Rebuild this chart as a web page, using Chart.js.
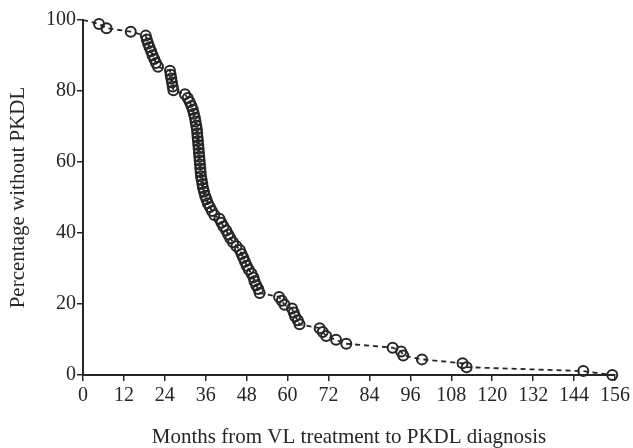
<!DOCTYPE html>
<html>
<head>
<meta charset="utf-8">
<script src="https://cdn.jsdelivr.net/npm/chart.js@4"></script>
<style>
    html, body { margin: 0; padding: 0; background: #fff; }
    #wrap { width: 633px; height: 448px; }
</style>
</head>
<body>
<div id="wrap"><canvas id="km-chart" width="633" height="448"></canvas></div>
<script>
// Months from VL treatment to PKDL diagnosis
const months = [0, 4.7, 6.9, 14.0,
    18.4, 18.7, 19.1, 19.5, 20.0, 20.4, 20.9, 21.4, 22.0,
    25.5, 25.7, 25.9, 26.1, 26.3, 26.5,
    29.9, 30.7, 31.3, 31.8, 32.2, 32.5, 32.8, 33.0, 33.2, 33.4,
    33.5, 33.6, 33.7, 33.8, 33.9, 34.0, 34.1, 34.2, 34.3, 34.4,
    34.5, 34.6, 34.8, 35.0, 35.2, 35.5, 35.8, 36.2, 36.6, 37.2,
    37.8, 38.5, 40.0, 40.6, 41.2, 42.0, 42.6, 43.2, 44.0, 45.0,
    46.0, 46.5, 47.0, 47.5, 48.0, 48.6, 49.4, 50.0, 50.3, 50.8,
    51.4, 51.8,
    57.5, 58.3, 59.1, 61.3, 61.8, 62.2, 63.0, 63.5,
    69.4, 70.3, 71.3, 74.2, 77.2,
    90.8, 93.3, 93.9, 99.4, 111.3, 112.5, 146.7, 155.2];

// Percentage without PKDL
const percentWithout = [100, 98.9, 97.7, 96.7,
    95.6, 94.5, 93.4, 92.3, 91.2, 90.1, 89.0, 87.9, 86.8,
    85.7, 84.6, 83.5, 82.4, 81.3, 80.2,
    79.1, 78.0, 76.9, 75.8, 74.7, 73.6, 72.5, 71.4, 70.3, 69.2,
    68.1, 67.0, 65.9, 64.8, 63.7, 62.6, 61.5, 60.4, 59.3, 58.2,
    57.1, 56.0, 54.9, 53.8, 52.7, 51.6, 50.5, 49.5, 48.4, 47.3,
    46.2, 45.1, 44.0, 42.9, 41.8, 40.7, 39.6, 38.5, 37.4, 36.3,
    35.2, 34.1, 33.0, 31.9, 30.8, 29.7, 28.6, 27.5, 26.4, 25.3,
    24.2, 23.1,
    22.0, 20.9, 19.8, 18.7, 17.6, 16.5, 15.4, 14.3,
    13.2, 12.1, 11.0, 9.9, 8.8,
    7.7, 6.6, 5.5, 4.4, 3.3, 2.2, 1.1, 0];

const xTicks = [0, 12, 24, 36, 48, 60, 72, 84, 96, 108, 120, 132, 144, 156];
const yTicks = [0, 20, 40, 60, 80, 100];

const ink = '#262626';
const serif = '"Liberation Serif", "DejaVu Serif", serif';

const points = months.map((m, i) => ({ x: m, y: percentWithout[i] }));
// the starting point at 100% has no marker
const radii = months.map((m, i) => i === 0 ? 0 : 5);

new Chart(document.getElementById('km-chart'), {
    type: 'line',
    data: {
        datasets: [{
            data: points,
            borderColor: ink,
            borderWidth: 1.8,
            borderDash: [5, 4],
            pointRadius: radii,
            pointBorderColor: ink,
            pointBorderWidth: 2,
            pointBackgroundColor: 'rgba(0,0,0,0)',
            tension: 0,
            fill: false,
            clip: false
        }]
    },
    options: {
        responsive: false,
        animation: false,
        layout: {
            padding: { top: 20, right: 17, bottom: 0, left: 0 }
        },
        plugins: {
            legend: { display: false },
            tooltip: { enabled: false }
        },
        scales: {
            x: {
                type: 'linear',
                min: 0,
                max: 156,
                afterBuildTicks: axis => { axis.ticks = xTicks.map(v => ({ value: v })); },
                afterFit: axis => { axis.height = 73; },
                border: { display: true, color: ink, width: 2 },
                grid: { drawOnChartArea: false, drawTicks: true, tickLength: 6, color: ink, lineWidth: 1.5 },
                ticks: {
                    color: ink,
                    padding: 3,
                    maxRotation: 0,
                    autoSkip: false,
                    font: { family: serif, size: 20 }
                },
                title: {
                    display: true,
                    text: 'Months from VL treatment to PKDL diagnosis',
                    color: ink,
                    padding: { top: 0, bottom: 0 },
                    font: { family: serif, size: 21, lineHeight: 1.0 }
                }
            },
            y: {
                type: 'linear',
                min: 0,
                max: 100,
                afterBuildTicks: axis => { axis.ticks = yTicks.map(v => ({ value: v })); },
                afterFit: axis => { axis.width = 83; },
                border: { display: true, color: ink, width: 2 },
                grid: { drawOnChartArea: false, drawTicks: true, tickLength: 6, color: ink, lineWidth: 1.5 },
                ticks: {
                    color: ink,
                    padding: 1,
                    font: { family: serif, size: 20 }
                },
                title: {
                    display: true,
                    text: 'Percentage without PKDL',
                    color: ink,
                    padding: { top: 6, bottom: 0 },
                    font: { family: serif, size: 21 }
                }
            }
        }
    }
});
</script>
</body>
</html>
